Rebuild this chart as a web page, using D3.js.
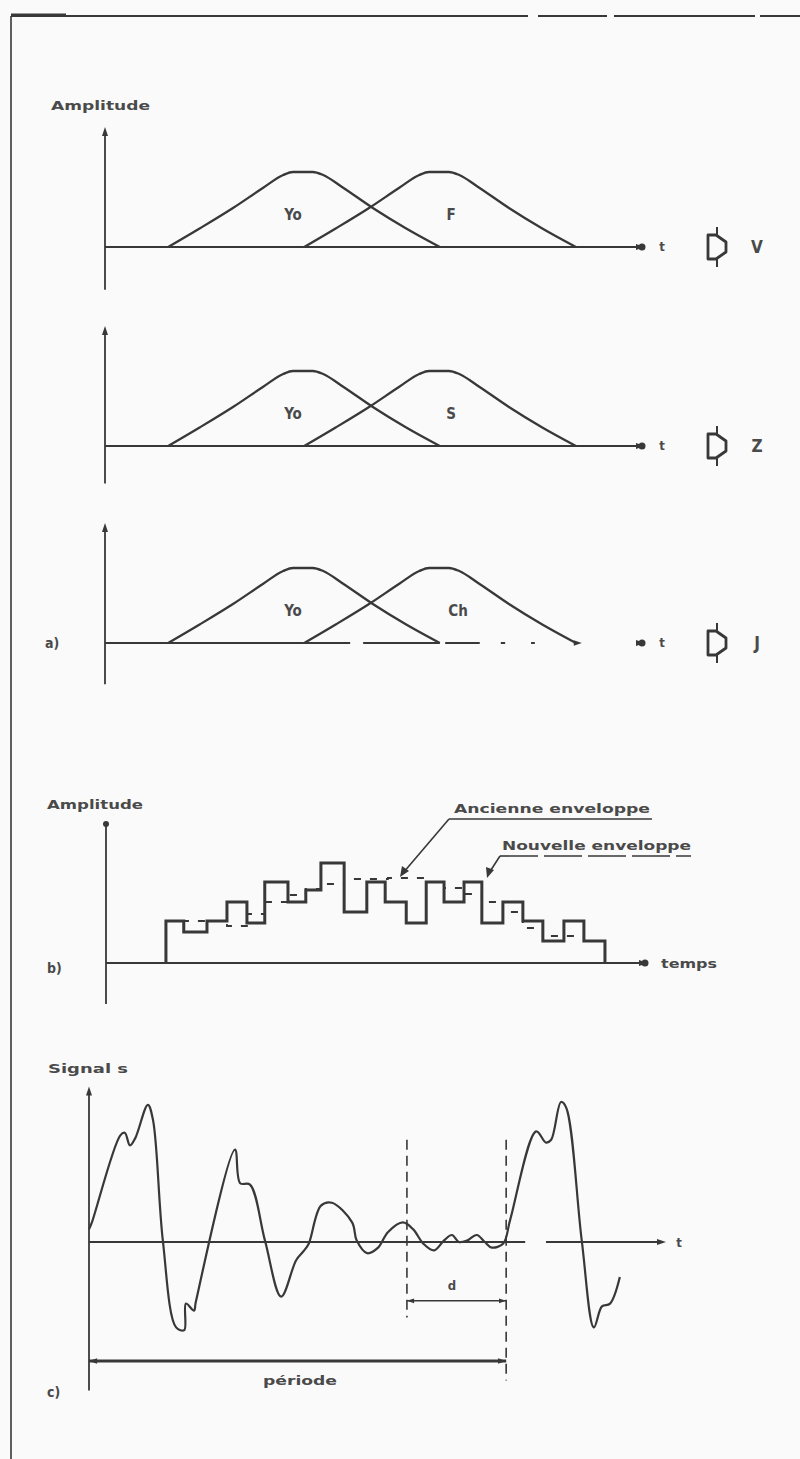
<!DOCTYPE html>
<html><head><meta charset="utf-8">
<script src="https://cdn.jsdelivr.net/npm/d3@7"></script>
<style>body{margin:0;background:#fafafa} svg{display:block}</style>
</head><body><svg id="c" width="800" height="1459"></svg>
<script>
// ---------- DATA ----------
// panel a : two overlapping spectral bells per row (time units 0..100, amplitude 0..1)
const bellLabels   = [["Yo","F"],["Yo","S"],["Yo","Ch"]];
const resultLetters = ["V","Z","J"];
const bellVoT   = [11.7,17.6,23.7,29.3,33.0,34.8,38.5,40.4,44.1,49.6,55.7,62.0];
const bellVoAmp = [0,0.25,0.52,0.79,0.96,1.0,1.0,0.96,0.79,0.52,0.25,0];
const bellCT    = [36.9,42.8,48.9,54.5,58.2,60.0,63.7,65.6,69.3,74.8,80.9,87.2];
const bellCAmp  = [0,0.25,0.52,0.79,0.96,1.0,1.0,0.96,0.79,0.52,0.25,0];
const row3BaseSegments = [[0,45.4],[47.8,62.0],[63.0,69.4],[73.3,74.1],[78.9,79.6]];

// panel b : new (solid) and old (dashed) step envelopes
const newEnvT   = [11.1,14.4,18.7,22.4,26.1,29.4,33.7,37.0,39.8,44.1,48.3,51.7,55.6,59.3,62.6,66.3,69.6,73.5,77.2,80.9,84.8,88.5,92.4];
const newEnvAmp = [42,31,42,61,40,81,61,73,100,51,81,61,40,81,61,81,40,61,42,22,42,22];
const oldEnvT   = [11.1,22.4,26.1,29.4,33.7,37.0,39.8,44.1,52.2,59.3,62.6,66.3,69.6,73.5,77.2,80.9,88.5,92.4];
const oldEnvAmp = [42,37,49,61,68,74,79,84,85,81,75,69,61,51,35,27,22];

// panel c : signal over one period and beyond
const sigT = [0,0.5,5.4,6.2,7.1,8.0,10.2,11.1,12.8,15.1,16.5,16.8,18.2,18.5,25.3,26.2,27.9,30.5,33.3,35.9,37.3,38.1,40.2,42.1,45.6,46.4,48.2,50.1,51.8,54.4,56.2,57.9,59.8,61.5,62.9,64.1,65.5,67.2,68.6,69.8,71.8,73.0,77.5,79.2,80.1,81.8,82.7,85.4,87.5,88.9,90.3,92.0];
const sigS = [0.09,0.14,0.76,0.78,0.69,0.74,0.98,0.87,0.01,-0.61,-0.63,-0.44,-0.49,-0.43,0.66,0.42,0.41,0.01,-0.39,-0.13,-0.06,-0.01,0.26,0.28,0.14,0.01,-0.08,-0.04,0.07,0.14,0.09,-0.01,-0.06,0.01,0.05,0.0,0.01,0.05,0.0,-0.04,-0.01,0.16,0.79,0.71,0.73,1.0,0.96,0.01,-0.61,-0.46,-0.44,-0.25];
const dStartT = 55.1, periodEndT = 72.3;

// ---------- DRAWING ----------
const svg = d3.select("#c");
const ink = "#383838";
svg.append("rect").attr("width",800).attr("height",1459).attr("fill","#fafafa");

function txt(x,y,s,size,len,anchor){
  const t = svg.append("text").attr("x",x).attr("y",y).text(s)
    .attr("font-family","'DejaVu Sans Condensed','DejaVu Sans',sans-serif")
    .attr("font-weight","bold").attr("font-size",size).attr("fill","#4a4a4a")
    .attr("dominant-baseline","central").attr("text-anchor",anchor||"start");
  if(len) t.attr("textLength",len).attr("lengthAdjust","spacingAndGlyphs");
  return t;
}
function arrow(x,y,dir,sz){
  sz = sz||5;
  let p;
  if(dir==="up") p=[[x,y],[x-sz*0.6,y+sz*1.8],[x+sz*0.6,y+sz*1.8]];
  else if(dir==="right") p=[[x,y],[x-sz*1.8,y-sz*0.6],[x-sz*1.8,y+sz*0.6]];
  else if(dir==="left") p=[[x,y],[x+sz*1.8,y-sz*0.6],[x+sz*1.8,y+sz*0.6]];
  svg.append("path").attr("d","M"+p.map(q=>q.join(",")).join("L")+"Z").attr("fill",ink);
}
function seg(x1,y1,x2,y2,w,dash){
  const l = svg.append("line").attr("x1",x1).attr("y1",y1).attr("x2",x2).attr("y2",y2)
    .attr("stroke",ink).attr("stroke-width",w||2);
  if(dash) l.attr("stroke-dasharray",dash);
  return l;
}

// frame
seg(11,16,528,16,2.2); seg(538,16,607,16,2); seg(614,16,755,16,2); seg(760,16,800,16,2);
seg(11,15,66,15,3);
seg(11,16,11,1459,1.6);

// ---- panel a ----
const xA = d3.scaleLinear().domain([0,100]).range([105,645]);
const baseA = [247,446,643];
const axisBotA = [-0.57,-0.5,-0.55];
const lineA = d3.line().curve(d3.curveMonotoneX);
txt(51,105,"Amplitude",13,99);
baseA.forEach((b,i)=>{
  const y = d3.scaleLinear().domain([0,1]).range([b,b-75]);
  seg(xA(0),y(1.6)+4,xA(0),y(axisBotA[i]),1.8);
  arrow(xA(0),y(1.6),"up",5);
  if(i<2){ seg(xA(0),y(0),xA(100)-6,y(0),2.2); }
  else {
    row3BaseSegments.forEach(s=>seg(xA(s[0]),y(0),xA(s[1]),y(0),2));
    arrow(xA(88.3),y(0),"right",4.5);
  }
  arrow(xA(100),y(0),"right",5);
  svg.append("circle").attr("cx",xA(100)-3).attr("cy",y(0)).attr("r",3.5).attr("fill",ink);
  txt(xA(100)+17,y(0)-1,"t",13,null,"middle");
  svg.append("path").attr("fill","none").attr("stroke",ink).attr("stroke-width",2.3)
    .attr("d",lineA(bellVoT.map((t,k)=>[xA(t),y(bellVoAmp[k])])));
  svg.append("path").attr("fill","none").attr("stroke",ink).attr("stroke-width",2.3)
    .attr("d",lineA(bellCT.map((t,k)=>[xA(t),y(bellCAmp[k])])));
  txt(293,y(0.43),bellLabels[i][0],15,null,"middle");
  txt(i===2?458:451,y(0.43),bellLabels[i][1],15,null,"middle");
  // "gives" symbol and resulting phoneme
  const by = y(0);
  svg.append("path").attr("fill","none").attr("stroke",ink).attr("stroke-width",2.8)
    .attr("stroke-linejoin","round")
    .attr("d",`M708,${by-12}L716,${by-12}L726,${by-5}L726,${by+5}L716,${by+12}L708,${by+12}Z`);
  seg(717,by-20,717,by-12,2); seg(717,by+12,717,by+20,2);
  txt(757,by,resultLetters[i],17,null,"middle");
});
txt(45,643,"a)",14);

// ---- panel b ----
const xB = d3.scaleLinear().domain([0,100]).range([106,646]);
const yB = d3.scaleLinear().domain([0,100]).range([963,863]);
txt(47,804,"Amplitude",13,96);
seg(xB(0),yB(139),xB(0),yB(-41),1.8);
svg.append("circle").attr("cx",xB(0)).attr("cy",yB(139)).attr("r",3).attr("fill",ink);
seg(xB(0),yB(0),xB(100),yB(0),2.2);
arrow(xB(100)+2,yB(0),"right",5);
svg.append("circle").attr("cx",xB(100)-1).attr("cy",yB(0)).attr("r",3.5).attr("fill",ink);
txt(661,963,"temps",13,56);
txt(47,968,"b)",14);
const stepPts = (T,A,close)=>{
  const p=[]; if(close) p.push([T[0],0]);
  A.forEach((a,i)=>{p.push([T[i],a]);p.push([T[i+1],a]);});
  if(close) p.push([T[T.length-1],0]);
  return p;
};
const lineB = d3.line().x(d=>xB(d[0])).y(d=>yB(d[1]));
svg.append("path").attr("fill","none").attr("stroke",ink).attr("stroke-width",1.8)
  .attr("stroke-dasharray","7,9").attr("d",lineB(stepPts(oldEnvT,oldEnvAmp,false)));
svg.append("path").attr("fill","none").attr("stroke",ink).attr("stroke-width",3)
  .attr("stroke-linejoin","miter").attr("d",lineB(stepPts(newEnvT,newEnvAmp,true)));
// labels with leaders
txt(454,808,"Ancienne enveloppe",13,196);
seg(449,819,652,819,1.6);
seg(449,819,403,873,1.6);
svg.append("path").attr("fill",ink).attr("d","M400,877L402,866L409,871Z");
txt(502,845,"Nouvelle enveloppe",13,189);
seg(500,856,691,856,1.6,"38,6");
seg(500,856,489,873,1.6);
svg.append("path").attr("fill",ink).attr("d","M487,878L486,867L494,870Z");

// ---- panel c ----
const xC = d3.scaleLinear().domain([0,100]).range([89,666]);
const yC = d3.scaleLinear().domain([-1,1]).range([1382,1102]);
txt(48,1068,"Signal s",13,80);
seg(xC(0),yC(1.11)+6,xC(0),yC(-1.06),1.8);
arrow(xC(0),yC(1.11),"up",5);
seg(xC(0),yC(0),xC(75.6),yC(0),2);
seg(xC(79.2),yC(0),xC(100)-6,yC(0),2);
arrow(xC(100),yC(0),"right",5);
txt(679,1242,"t",13,null,"middle");
seg(xC(dStartT),yC(0.73),xC(dStartT),yC(-0.54),1.6,"10,6");
seg(xC(periodEndT),yC(0.73),xC(periodEndT),yC(-0.99),1.6,"10,6");
svg.append("path").attr("fill","none").attr("stroke",ink).attr("stroke-width",2.2)
  .attr("stroke-linejoin","round")
  .attr("d",d3.line().curve(d3.curveCatmullRom.alpha(0.5)).x((d,i)=>xC(sigT[i])).y(d=>yC(d))(sigS));
// d
seg(xC(dStartT),yC(-0.42),xC(periodEndT),yC(-0.42),1.6);
arrow(xC(dStartT),yC(-0.42),"left",4);
arrow(xC(periodEndT),yC(-0.42),"right",4);
txt(452,1285,"d",13,null,"middle");
// période
seg(xC(0),yC(-0.85),xC(periodEndT),yC(-0.85),3);
arrow(xC(0),yC(-0.85),"left",4.5);
arrow(xC(periodEndT),yC(-0.85),"right",4.5);
txt(263,1380,"période",13,74);
txt(47,1392,"c)",14);
</script></body></html>
